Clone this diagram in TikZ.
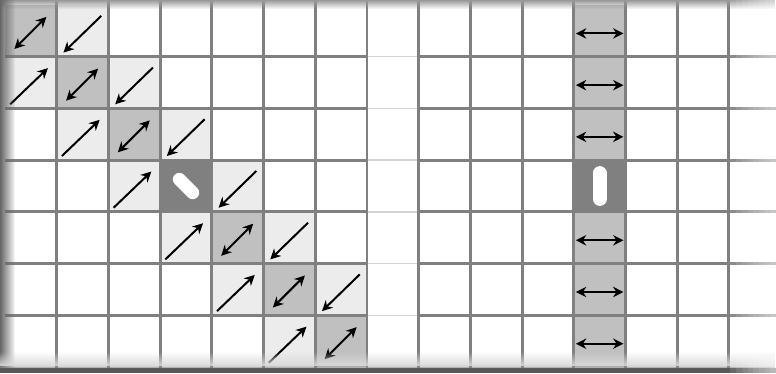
\documentclass[tikz,border=0pt]{standalone}
\usetikzlibrary{arrows.meta,fadings}
\definecolor{gridgray}{RGB}{128,128,128}
\definecolor{diaggray}{RGB}{192,192,192}
\definecolor{offgray}{RGB}{236,236,236}
\definecolor{pivotgray}{RGB}{128,128,128}
\definecolor{gapline}{RGB}{212,212,212}
\tikzset{
  >={Stealth[length=2mm,width=2mm]},
  gridline/.style={draw=gridgray, line width=1.6pt},
  thinline/.style={draw=gapline, line width=0.8pt},
  flow/.style={line width=1.1pt},
  pill/.style={draw=white, line cap=round},
}

\begin{document}
\begin{tikzpicture}[x=1cm, y=1cm]
  \useasboundingbox (-0.097,0.097) rectangle (14.91,-7.12);
  \fill[white] (-0.097,0.097) rectangle (14.91,-7.12);

  % cell fills: tridiagonal band and the pivot column
  \foreach \r in {0,...,6}
    \fill[diaggray] (\r,-\r) rectangle ++(1,-1);
  \foreach \r in {0,...,5} {
    \fill[offgray] (\r+1,-\r) rectangle ++(1,-1);
    \fill[offgray] (\r,-\r-1) rectangle ++(1,-1);
  }
  \fill[pivotgray] (3,-3) rectangle (4,-4);
  \fill[diaggray] (11,0) rectangle (12,-7);
  \fill[pivotgray] (11,-3) rectangle (12,-4);

  % grid
  \foreach \y in {1,...,6} {
    \draw[gridline] (0,-\y) -- (7,-\y);
    \draw[gridline] (8,-\y) -- (14.91,-\y);
    \draw[thinline] (7,-\y) -- (8,-\y);
  }
  \foreach \x in {1,...,14}
    \draw[gridline] (\x,0.097) -- (\x,-7.12);

  % arrows in the band
  \foreach \r in {0,1,2,4,5,6}
    \draw[flow, <->] (\r+0.18,-\r-0.85) -- (\r+0.8,-\r-0.23);
  \foreach \r in {0,...,5} {
    \draw[flow, ->] (\r+1.86,-\r-0.21) -- (\r+1.13,-\r-0.92);
    \draw[flow, ->] (\r+0.1,-\r-1.92) -- (\r+0.83,-\r-1.22);
  }
  \draw[pill, line width=2.5mm] (3.37,-3.37) -- (3.63,-3.63);

  % arrows in the pivot column
  \foreach \r in {0,1,2,4,5,6}
    \draw[flow, <->] (11.04,-\r-0.55) -- (11.96,-\r-0.55);
  \draw[pill, line width=2.7mm] (11.5,-3.25) -- (11.5,-3.75);

  % paper shadow
  \fill[black!40, path fading=south] (-0.097,0.097) rectangle (14.91,-0.08);
  \fill[black!60, path fading=east] (-0.097,0.097) rectangle (0.2,-7.12);
  \fill[black!15, path fading=north] (-0.097,-6.99) rectangle (14.91,-6.7);
  \fill[black!65] (-0.097,-7.12) rectangle (14.91,-7.02);
  \fill[black!45, path fading=north] (-0.097,-7.02) rectangle (14.91,-6.96);
  \foreach \i in {1,...,8}
    \fill[white, opacity=0.1] (14.91-\i*0.11,0.097) rectangle (14.91,-7.12);
\end{tikzpicture}
\end{document}
